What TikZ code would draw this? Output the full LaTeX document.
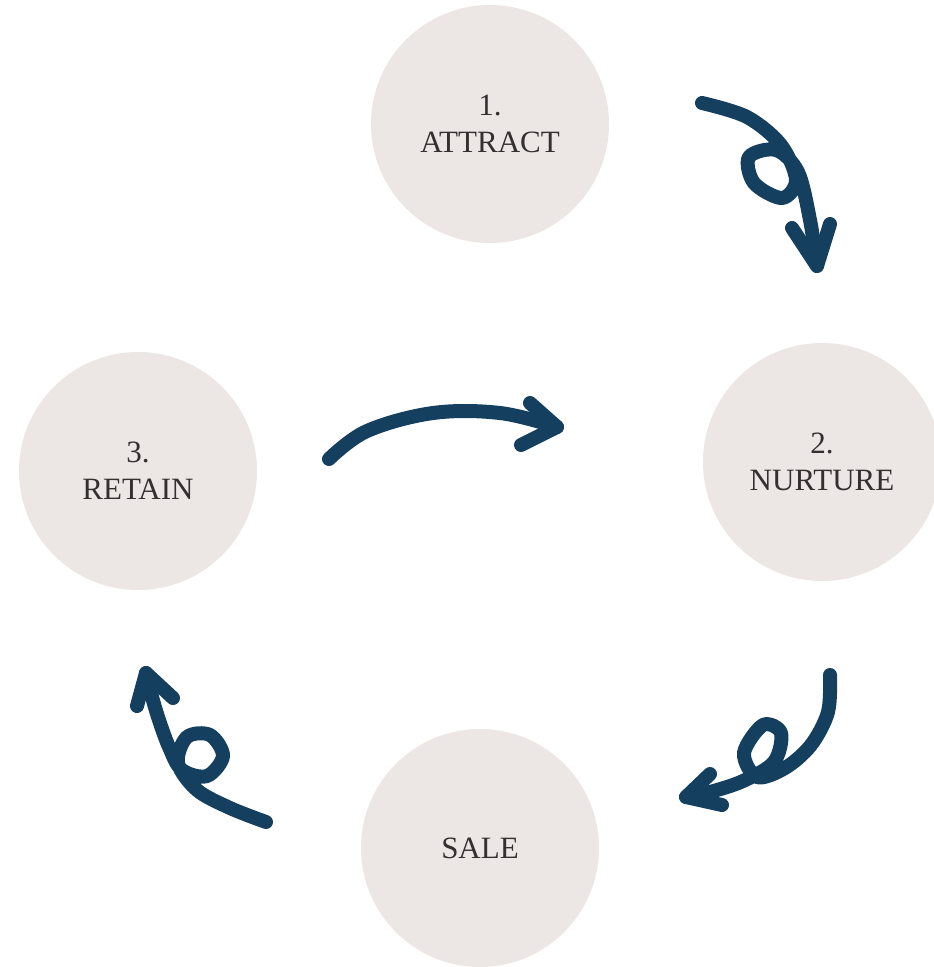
\documentclass[tikz,border=0pt]{standalone}
\usepackage{fontspec}
\setmainfont{Liberation Serif}
\definecolor{stagefill}{RGB}{236,230,228}
\definecolor{stagetext}{RGB}{52,48,48}
\definecolor{inkblue}{RGB}{21,63,94}
\begin{document}
\begin{tikzpicture}[x=1pt,y=-1pt,
  stage/.style={circle,fill=stagefill,draw=none,minimum size=238pt,inner sep=0pt,
    text=stagetext,align=center,font=\fontsize{31}{37}\selectfont},
  ink/.style={draw=inkblue,line width=14pt,line cap=round,line join=round}]
\useasboundingbox (0,0) rectangle (934,967);
\clip (0,0) rectangle (934,967);

% stages of the cycle
\node[stage] (attract) at (490,124) {1.\\ATTRACT};
\node[stage] (nurture) at (822,462) {2.\\NURTURE};
\node[stage] (retain)  at (138,471) {3.\\RETAIN};
\node[stage] (sale)    at (480,848) {SALE};

% arrow ends
\coordinate (a1s) at (702,103);  \coordinate (a1t) at (817,266);
\coordinate (a2s) at (329,459);  \coordinate (a2t) at (557,427);
\coordinate (a3s) at (830,675);  \coordinate (a3t) at (686,797);
\coordinate (a4s) at (266,822);  \coordinate (a4t) at (146,673);

% attract -> nurture, with a curl
\draw[ink] plot[smooth,tension=0.55] coordinates {(a1s) (747,117) (781,145) (796,180)
  (782,198) (754,183) (749,157) (776,150) (798,172) (810,220) (a1t)};
\draw[ink] (792,228) -- (a1t) -- (830,224);

% retain -> nurture
\draw[ink] plot[smooth,tension=0.6] coordinates {(a2s) (367,431) (433,413) (500,413) (a2t)};
\draw[ink] (530,403) -- (a2t) -- (521,445);

% nurture -> sale, with a curl
\draw[ink] plot[smooth,tension=0.55] coordinates {(a3s) (828,712) (811,745) (785,768)
  (757,777) (744,753) (763,725) (781,733) (774,762) (743,781) (710,792) (a3t)};
\draw[ink] (710,774) -- (a3t) -- (722,805);

% sale -> retain, with a curl
\draw[ink] plot[smooth,tension=0.55] coordinates {(a4s) (230,808) (197,790) (178,763)
  (187,737) (210,735) (223,756) (207,776) (182,770) (169,747) (158,717) (149,686) (a4t)};
\draw[ink] (137,706) -- (a4t) -- (173,698);
\end{tikzpicture}
\end{document}
